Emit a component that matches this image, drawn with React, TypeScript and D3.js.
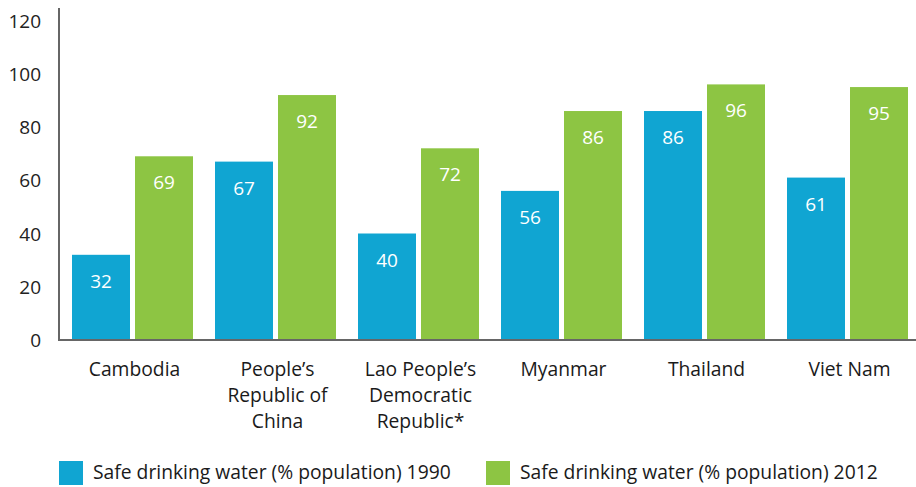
import React from "react";
import * as d3 from "d3";

const categories: string[][] = [
  ["Cambodia"],
  ["People’s", "Republic of", "China"],
  ["Lao People’s", "Democratic", "Republic*"],
  ["Myanmar"],
  ["Thailand"],
  ["Viet Nam"],
];
const values1990 = [32, 67, 40, 56, 86, 61];
const values2012 = [69, 92, 72, 86, 96, 95];
const yTicks = [0, 20, 40, 60, 80, 100, 120];
const seriesNames = [
  "Safe drinking water (% population) 1990",
  "Safe drinking water (% population) 2012",
];
const colors = ["#10A5D2", "#8DC543"];

const W = 916;
const H = 487;
const axisX = 59;
const baseY = 340;

export default function App() {
  const x = d3
    .scaleBand<number>()
    .domain(d3.range(categories.length))
    .range([axisX, axisX + 143 * 6]);
  const y = d3.scaleLinear().domain([0, 120]).range([baseY, 20.5]);
  const barW = 58;
  const offsets = [13, 76];
  const series = [values1990, values2012];
  const font = "'Open Sans', sans-serif";

  return (
    <div style={{ position: "absolute", left: 0, top: 0 }}>
      <svg width={W} height={H} style={{ display: "block" }}>
        {series.map((vals, s) =>
          vals.map((v, i) => {
            const bx = (x(i) as number) + offsets[s];
            return (
              <g key={`${s}-${i}`}>
                <rect x={bx} y={y(v)} width={barW} height={baseY - y(v)} fill={colors[s]} />
                <text
                  x={bx + barW / 2}
                  y={y(v) + 33}
                  textAnchor="middle"
                  fill="#fff"
                  fontFamily="'Open Sans', sans-serif"
                  fontSize={19}
                >
                  {v}
                </text>
              </g>
            );
          })
        )}
        <line x1={axisX} x2={axisX} y1={8} y2={baseY} stroke="#666" strokeWidth={2} />
        <line x1={axisX - 1} x2={W} y1={baseY} y2={baseY} stroke="#666" strokeWidth={2} />
        {yTicks.map((t) => (
          <text
            key={t}
            x={41}
            y={y(t) + 7}
            textAnchor="end"
            fill="#222"
            fontFamily={font}
            fontSize={19}
          >
            {t}
          </text>
        ))}
        {categories.map((lines, i) => {
          const cx = (x(i) as number) + 13 + (76 + barW - 13) / 2 + 2;
          return (
            <text key={i} textAnchor="middle" fill="#1a1a1a" fontFamily={font} fontSize={19.3}>
              {lines.map((ln, j) => (
                <tspan key={j} x={cx} y={376 + j * 26}>
                  {ln}
                </tspan>
              ))}
            </text>
          );
        })}
        {seriesNames.map((n, s) => {
          const lx = s === 0 ? 59 : 486;
          return (
            <g key={n}>
              <rect x={lx} y={461} width={24} height={24} fill={colors[s]} />
              <text x={lx + 34} y={479} fill="#1a1a1a" fontFamily={font} fontSize={19.3}>
                {n}
              </text>
            </g>
          );
        })}
      </svg>
    </div>
  );
}
